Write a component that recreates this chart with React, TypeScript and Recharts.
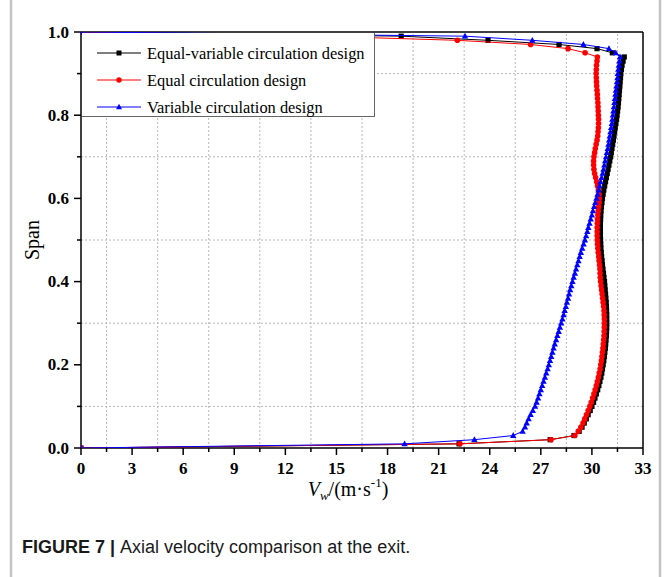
import React from 'react';
import { ScatterChart, Scatter, XAxis, YAxis, ReferenceLine } from 'recharts';

const spanValues = [
  0, 0.01, 0.02, 0.03, 0.04, 0.05, 0.06, 0.07, 0.08, 0.09,
  0.1, 0.11, 0.12, 0.13, 0.14, 0.15, 0.16, 0.17, 0.18, 0.19,
  0.2, 0.21, 0.22, 0.23, 0.24, 0.25, 0.26, 0.27, 0.28, 0.29,
  0.3, 0.31, 0.32, 0.33, 0.34, 0.35, 0.36, 0.37, 0.38, 0.39,
  0.4, 0.41, 0.42, 0.43, 0.44, 0.45, 0.46, 0.47, 0.48, 0.49,
  0.5, 0.51, 0.52, 0.53, 0.54, 0.55, 0.56, 0.57, 0.58, 0.59,
  0.6, 0.61, 0.62, 0.63, 0.64, 0.65, 0.66, 0.67, 0.68, 0.69,
  0.7, 0.71, 0.72, 0.73, 0.74, 0.75, 0.76, 0.77, 0.78, 0.79,
  0.8, 0.81, 0.82, 0.83, 0.84, 0.85, 0.86, 0.87, 0.88, 0.89,
  0.9, 0.91, 0.92, 0.93, 0.94, 0.95, 0.96, 0.97, 0.98, 0.99,
  1.0,
];

const equalVariable = [
  0, 22.2, 27.55, 28.95, 29.25, 29.42, 29.55, 29.67, 29.78, 29.9,
  30.0, 30.1, 30.18, 30.26, 30.34, 30.41, 30.47, 30.53, 30.58, 30.62,
  30.66, 30.7, 30.73, 30.76, 30.79, 30.81, 30.83, 30.85, 30.86, 30.87,
  30.87, 30.87, 30.87, 30.86, 30.85, 30.84, 30.82, 30.8, 30.78, 30.76,
  30.74, 30.71, 30.68, 30.65, 30.62, 30.6, 30.57, 30.55, 30.53, 30.52,
  30.51, 30.5, 30.5, 30.5, 30.5, 30.51, 30.52, 30.54, 30.56, 30.59,
  30.62, 30.66, 30.7, 30.75, 30.8, 30.85, 30.9, 30.95, 31.0, 31.05,
  31.1, 31.14, 31.18, 31.22, 31.26, 31.3, 31.33, 31.37, 31.41, 31.45,
  31.48, 31.51, 31.54, 31.56, 31.58, 31.6, 31.62, 31.64, 31.66, 31.68,
  31.7, 31.73, 31.77, 31.83, 31.9, 31.2, 30.3, 28.07, 23.9, 18.8,
  0,
];

const equalDesign = [
  0, 22.25, 27.6, 29.0, 29.2, 29.35, 29.48, 29.58, 29.68, 29.78,
  29.88, 29.96, 30.04, 30.12, 30.19, 30.26, 30.32, 30.38, 30.43, 30.48,
  30.52, 30.56, 30.59, 30.62, 30.65, 30.67, 30.69, 30.71, 30.72, 30.73,
  30.73, 30.73, 30.72, 30.71, 30.69, 30.66, 30.63, 30.6, 30.57, 30.54,
  30.51, 30.49, 30.48, 30.47, 30.45, 30.42, 30.4, 30.37, 30.35, 30.33,
  30.32, 30.31, 30.31, 30.31, 30.32, 30.33, 30.35, 30.37, 30.4, 30.42,
  30.43, 30.42, 30.38, 30.33, 30.28, 30.22, 30.16, 30.12, 30.1, 30.1,
  30.12, 30.16, 30.2, 30.25, 30.3, 30.34, 30.36, 30.38, 30.39, 30.39,
  30.38, 30.37, 30.36, 30.35, 30.33, 30.32, 30.3, 30.28, 30.27, 30.26,
  30.25, 30.26, 30.27, 30.3, 30.32, 29.6, 28.6, 26.4, 22.1, 14.0,
  0,
];

const variableDesign = [
  0, 19.0, 23.1, 25.38, 25.93, 26.07, 26.17, 26.28, 26.4, 26.53,
  26.66, 26.75, 26.84, 26.92, 27.0, 27.08, 27.16, 27.24, 27.32, 27.4,
  27.47, 27.54, 27.61, 27.68, 27.75, 27.82, 27.9, 27.97, 28.05, 28.12,
  28.2, 28.27, 28.34, 28.4, 28.47, 28.53, 28.6, 28.66, 28.72, 28.79,
  28.86, 28.93, 29.0, 29.07, 29.14, 29.21, 29.28, 29.35, 29.43, 29.51,
  29.59, 29.66, 29.73, 29.79, 29.86, 29.93, 30.0, 30.06, 30.13, 30.2,
  30.27, 30.33, 30.39, 30.45, 30.51, 30.57, 30.63, 30.68, 30.73, 30.78,
  30.83, 30.88, 30.93, 30.97, 31.01, 31.05, 31.09, 31.13, 31.17, 31.2,
  31.23, 31.26, 31.29, 31.32, 31.35, 31.38, 31.41, 31.44, 31.47, 31.5,
  31.52, 31.55, 31.58, 31.61, 31.65, 31.4, 31.0, 29.5, 26.5, 22.55,
  0,
];

const xTicks = [0, 1.5, 3, 4.5, 6, 7.5, 9, 10.5, 12, 13.5, 15, 16.5, 18, 19.5, 21, 22.5, 24, 25.5, 27, 28.5, 30, 31.5, 33];
const yTicks = [0, 0.1, 0.2, 0.3, 0.4, 0.5, 0.6, 0.7, 0.8, 0.9, 1.0];
const xGrid = [1.5, 4.5, 7.5, 10.5, 13.5, 16.5, 19.5, 22.5, 25.5, 28.5, 31.5];
const yGrid = [0.1, 0.3, 0.5, 0.7, 0.9];

const seriesNames = ['Equal-variable circulation design', 'Equal circulation design', 'Variable circulation design'];
const seriesColors = ['#000000', '#ff0000', '#0000ff'];

const toPoints = (vals: number[]) => vals.map((v, i) => ({ x: v, y: spanValues[i] }));

const SERIF = '"Liberation Serif", "Times New Roman", serif';
const SANS = '"Liberation Sans", Arial, sans-serif';

const Square = (props: any) => {
  const { cx, cy } = props;
  if (cx == null || cy == null) return null;
  return <rect x={cx - 2.6} y={cy - 2.6} width={5.2} height={5.2} fill="#000" />;
};
const Circle = (props: any) => {
  const { cx, cy } = props;
  if (cx == null || cy == null) return null;
  return <circle cx={cx} cy={cy} r={2.8} fill="#ff0000" />;
};
const Triangle = (props: any) => {
  const { cx, cy } = props;
  if (cx == null || cy == null) return null;
  return <path d={`M${cx},${cy - 3.4} L${cx + 3.2},${cy + 2.4} L${cx - 3.2},${cy + 2.4} Z`} fill="#0000ff" />;
};

const isMultiple = (v: number, step: number) => Math.abs(v / step - Math.round(v / step)) < 1e-6;

const XTick = (props: any) => {
  const { x, y, payload } = props;
  const v = payload.value;
  const major = isMultiple(v, 3);
  return (
    <g>
      <line x1={x} x2={x} y1={y} y2={y + (major ? 7 : 4)} stroke="#000" strokeWidth={1.5} />
      {major && (
        <text x={x} y={y + 26} textAnchor="middle" fontFamily={SERIF} fontWeight="bold" fontSize={17} fill="#000">
          {String(Math.round(v))}
        </text>
      )}
    </g>
  );
};

const YTick = (props: any) => {
  const { x, y, payload } = props;
  const v = payload.value;
  const major = isMultiple(v, 0.2);
  return (
    <g>
      <line x1={x} x2={x - (major ? 7 : 4)} y1={y} y2={y} stroke="#000" strokeWidth={1.5} />
      {major && (
        <text x={x - 12} y={y + 5.5} textAnchor="end" fontFamily={SERIF} fontWeight="bold" fontSize={17} fill="#000">
          {v.toFixed(1)}
        </text>
      )}
    </g>
  );
};

const legendMarkers = [
  (cx: number, cy: number) => <rect x={cx - 2.5} y={cy - 2.5} width={5} height={5} fill="#000" />,
  (cx: number, cy: number) => <circle cx={cx} cy={cy} r={2.7} fill="#ff0000" />,
  (cx: number, cy: number) => <path d={`M${cx},${cy - 3.2} L${cx + 3},${cy + 2.3} L${cx - 3},${cy + 2.3} Z`} fill="#0000ff" />,
];

export default function App() {
  return (
    <div style={{ position: 'absolute', left: 0, top: 0, width: 664, height: 577, background: '#fff' }}>
      <ScatterChart width={664} height={577} margin={{ top: 32, right: 21, bottom: 89, left: 0 }}>
        <XAxis
          type="number"
          dataKey="x"
          domain={[0, 33]}
          ticks={xTicks}
          interval={0}
          tickSize={0}
          tickMargin={0}
          height={40}
          tick={<XTick />}
          axisLine={{ stroke: '#000', strokeWidth: 1.5 }}
          allowDataOverflow
        />
        <YAxis
          type="number"
          dataKey="y"
          domain={[0, 1]}
          ticks={yTicks}
          interval={0}
          tickSize={0}
          tickMargin={0}
          width={81}
          tick={<YTick />}
          axisLine={{ stroke: '#000', strokeWidth: 1.5 }}
          allowDataOverflow
        />
        {xGrid.map((g) => (
          <ReferenceLine key={'gx' + g} x={g} stroke="#b8b8b8" strokeDasharray="2 2" strokeWidth={1} />
        ))}
        {yGrid.map((g) => (
          <ReferenceLine key={'gy' + g} y={g} stroke="#b8b8b8" strokeDasharray="2 2" strokeWidth={1} />
        ))}
        <ReferenceLine x={33} stroke="#000" strokeWidth={1.5} />
        <ReferenceLine y={1} stroke="#000" strokeWidth={1.5} />
        <Scatter
          name={seriesNames[0]}
          data={toPoints(equalVariable)}
          line={{ stroke: seriesColors[0], strokeWidth: 1 }}
          shape={<Square />}
          isAnimationActive={false}
        />
        <Scatter
          name={seriesNames[1]}
          data={toPoints(equalDesign)}
          line={{ stroke: seriesColors[1], strokeWidth: 1 }}
          shape={<Circle />}
          isAnimationActive={false}
        />
        <Scatter
          name={seriesNames[2]}
          data={toPoints(variableDesign)}
          line={{ stroke: seriesColors[2], strokeWidth: 1 }}
          shape={<Triangle />}
          isAnimationActive={false}
        />
      </ScatterChart>

      {/* Legend box */}
      <svg style={{ position: 'absolute', left: 82, top: 33 }} width={294} height={84}>
        <rect x={0} y={0} width={292} height={83} fill="#fff" />
        <line x1={0} x2={292.5} y1={83.5} y2={83.5} stroke="#666" strokeWidth={1} />
        <line x1={292.5} x2={292.5} y1={0} y2={84} stroke="#666" strokeWidth={1} />
        {seriesNames.map((name, i) => {
          const cy = 20 + i * 27;
          return (
            <g key={name}>
              <line x1={15} x2={59} y1={cy} y2={cy} stroke={seriesColors[i]} strokeWidth={1.2} />
              {legendMarkers[i](37, cy)}
              <text x={65} y={cy + 6} fontFamily={SERIF} fontSize={16.4} fill="#000">
                {name}
              </text>
            </g>
          );
        })}
      </svg>

      {/* Axis titles, caption and figure borders */}
      <svg style={{ position: 'absolute', left: 0, top: 0, pointerEvents: 'none' }} width={664} height={577}>
        <line x1={11} x2={11} y1={0} y2={577} stroke="#c4c4c4" strokeWidth={2.5} />
        <line x1={660} x2={660} y1={0} y2={577} stroke="#c4c4c4" strokeWidth={2.5} />
        <text
          x={0}
          y={0}
          transform="translate(39,240) rotate(-90)"
          textAnchor="middle"
          fontFamily={SERIF}
          fontSize={20}
          fill="#000"
        >
          Span
        </text>
        <text x={348} y={496} textAnchor="middle" fontFamily={SERIF} fontSize={20} fill="#000">
          <tspan fontStyle="italic">V</tspan>
          <tspan fontStyle="italic" fontSize={13} dy={4}>w</tspan>
          <tspan dy={-4}>/(m·s</tspan>
          <tspan fontSize={13} dy={-9}>-1</tspan>
          <tspan dy={9}>)</tspan>
        </text>
        <text x={22} y={553} fontFamily={SANS} fontSize={18} fill="#1a1a1a">
          <tspan fontWeight="bold">FIGURE 7 | </tspan>
          <tspan>Axial velocity comparison at the exit.</tspan>
        </text>
      </svg>
    </div>
  );
}
